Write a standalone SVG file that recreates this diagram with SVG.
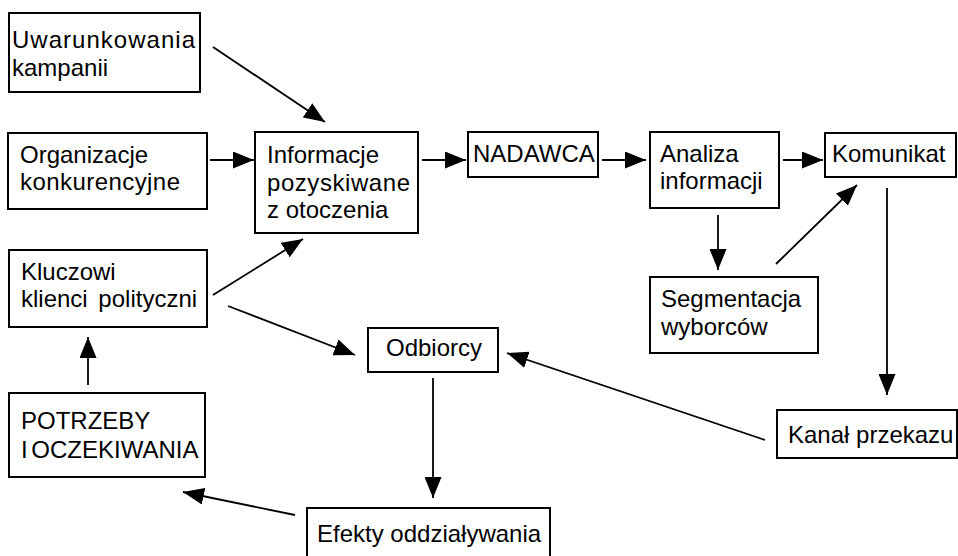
<svg xmlns="http://www.w3.org/2000/svg" width="958" height="556" viewBox="0 0 958 556">
<style>
.box{fill:#fff;stroke:#000;stroke-width:2}
.t{font-family:"Liberation Sans",Arial,sans-serif;font-size:24px;fill:#000}
.c{stroke:#000;stroke-width:1.8;fill:none;marker-end:url(#ah)}
</style>
<defs>
<marker id="ah" markerUnits="userSpaceOnUse" markerWidth="21" markerHeight="17" refX="21" refY="8.5" orient="auto" viewBox="0 0 21 17">
<path d="M0,0 L21,8.5 L0,17 z" fill="#000"/>
</marker>
</defs>
<rect width="958" height="556" fill="#fff"/>
<g id="connectors">
<line class="c" x1="213" y1="47" x2="325" y2="122"/>
<line class="c" x1="210" y1="160" x2="254" y2="160"/>
<line class="c" x1="213" y1="295" x2="303" y2="239"/>
<line class="c" x1="422" y1="160" x2="466" y2="160"/>
<line class="c" x1="602" y1="160" x2="646" y2="160"/>
<line class="c" x1="783" y1="160" x2="823" y2="160"/>
<line class="c" x1="718" y1="215" x2="718" y2="270"/>
<line class="c" x1="776" y1="264" x2="857" y2="185"/>
<line class="c" x1="887" y1="188" x2="887" y2="395"/>
<line class="c" x1="765" y1="440" x2="507" y2="353"/>
<line class="c" x1="228" y1="306" x2="355" y2="355"/>
<line class="c" x1="433" y1="378" x2="433" y2="498"/>
<line class="c" x1="295" y1="515" x2="183" y2="492"/>
<line class="c" x1="88" y1="385" x2="88" y2="337"/>
</g>
<g id="uwarunkowania"><rect class="box" x="9" y="13" width="191" height="79"/><text class="t" x="12" y="48" textLength="183">Uwarunkowania</text><text class="t" x="12" y="76">kampanii</text></g>
<g id="organizacje"><rect class="box" x="8" y="133" width="199" height="76"/><text class="t" x="20" y="163">Organizacje</text><text class="t" x="20" y="190" textLength="160">konkurencyjne</text></g>
<g id="informacje"><rect class="box" x="255" y="132" width="163" height="101"/><text class="t" x="267" y="163">Informacje</text><text class="t" x="267" y="191" textLength="143">pozyskiwane</text><text class="t" x="267" y="218">z otoczenia</text></g>
<g id="nadawca"><rect class="box" x="468" y="132" width="130" height="45"/><text class="t" x="473" y="162">NADAWCA</text></g>
<g id="analiza"><rect class="box" x="650" y="132" width="129" height="76"/><text class="t" x="660" y="162">Analiza</text><text class="t" x="660" y="189">informacji</text></g>
<g id="komunikat"><rect class="box" x="825" y="133" width="131" height="44"/><text class="t" x="832" y="162">Komunikat</text></g>
<g id="segmentacja"><rect class="box" x="650" y="277" width="168" height="76"/><text class="t" x="661" y="307">Segmentacja</text><text class="t" x="661" y="335">wyborców</text></g>
<g id="kanal"><rect class="box" x="777" y="410" width="180" height="48"/><text class="t" x="788" y="443">Kanał przekazu</text></g>
<g id="odbiorcy"><rect class="box" x="368" y="328" width="130" height="44"/><text class="t" x="386" y="356">Odbiorcy</text></g>
<g id="efekty"><rect class="box" x="307" y="508" width="243" height="60"/><text class="t" x="317" y="542">Efekty oddziaływania</text></g>
<g id="kluczowi"><rect class="box" x="9" y="250" width="198" height="77"/><text class="t" x="21" y="280">Kluczowi</text><text class="t" x="21" y="307" word-spacing="4">klienci polityczni</text></g>
<g id="potrzeby"><rect class="box" x="9" y="393" width="196" height="84"/><text class="t" x="21" y="429">POTRZEBY</text><text class="t" x="21" y="458" word-spacing="-3">I OCZEKIWANIA</text></g>
</svg>
